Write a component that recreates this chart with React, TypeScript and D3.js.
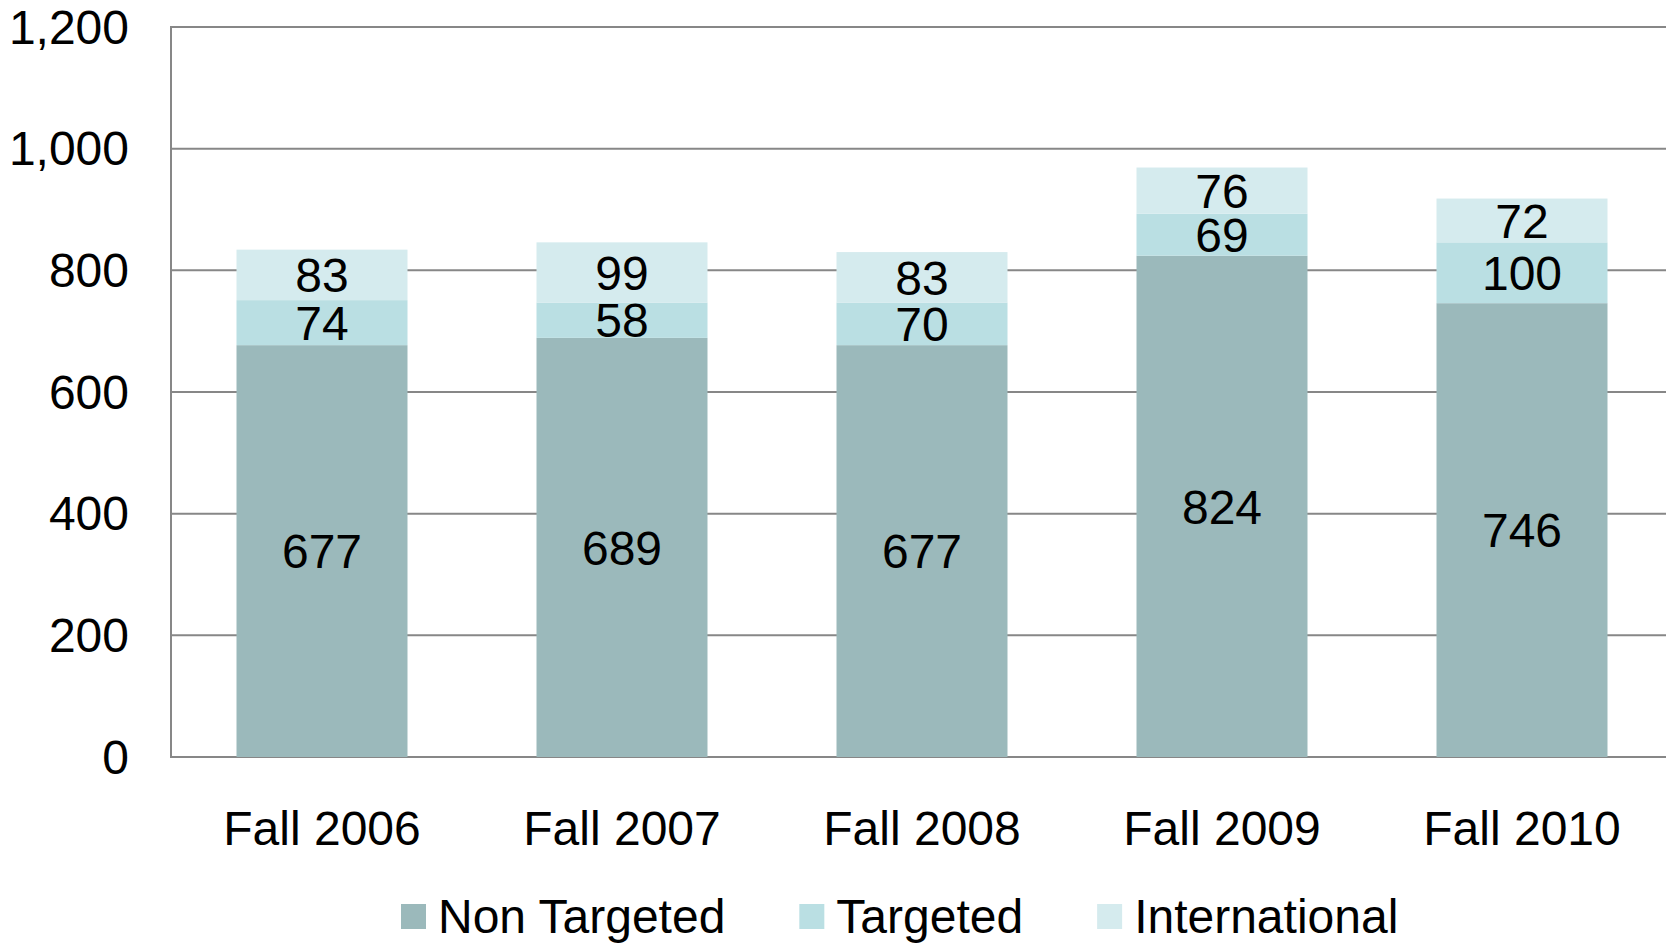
import React, { useEffect, useRef } from "react";
import * as d3 from "d3";

const categories = ["Fall 2006", "Fall 2007", "Fall 2008", "Fall 2009", "Fall 2010"];
const nonTargeted = [677, 689, 677, 824, 746];
const targeted = [74, 58, 70, 69, 100];
const international = [83, 99, 83, 76, 72];
const seriesNames = ["Non Targeted", "Targeted", "International"];
const seriesColors = ["#9BB9BB", "#BADFE3", "#D5EBEE"];
const yTicks = [0, 200, 400, 600, 800, 1000, 1200];

const WIDTH = 1666;
const HEIGHT = 945;
const FONT = "'Liberation Sans', Arial, sans-serif";

const App = () => {
    const ref = useRef<SVGSVGElement | null>(null);

    useEffect(() => {
        const svg = d3.select(ref.current);
        svg.selectAll("*").remove();

        const margin = { top: 27, left: 171, bottom: 188 };
        const plotBottom = HEIGHT - margin.bottom;

        const x = d3.scaleBand().domain(categories).range([margin.left + 1, margin.left + 1501])
            .paddingInner(0.43).paddingOuter(0.215);
        const y = d3.scaleLinear().domain([0, 1200]).range([plotBottom, margin.top]);

        const rows = categories.map((c, i) => ({
            category: c,
            "Non Targeted": nonTargeted[i],
            Targeted: targeted[i],
            International: international[i],
        }));
        const stacked = d3.stack<any>().keys(seriesNames)(rows);

        // gridlines
        svg.append("g")
            .selectAll("line")
            .data(yTicks)
            .join("line")
            .attr("x1", margin.left)
            .attr("x2", WIDTH)
            .attr("y1", d => y(d))
            .attr("y2", d => y(d))
            .attr("stroke", "#878787")
            .attr("stroke-width", 2);

        // left axis line
        svg.append("line")
            .attr("x1", margin.left).attr("x2", margin.left)
            .attr("y1", y(1200) - 1).attr("y2", y(0) + 1)
            .attr("stroke", "#878787").attr("stroke-width", 2);

        // y tick labels
        svg.append("g")
            .selectAll("text")
            .data(yTicks)
            .join("text")
            .attr("x", 129)
            .attr("y", d => y(d))
            .attr("dy", "0.35em")
            .attr("text-anchor", "end")
            .attr("font-family", FONT)
            .attr("font-size", 48)
            .attr("fill", "#000")
            .text(d => d3.format(",")(d));

        // bars
        stacked.forEach((layer, si) => {
            const g = svg.append("g");
            g.selectAll("rect")
                .data(layer)
                .join("rect")
                .attr("x", (d: any) => x(d.data.category)!)
                .attr("width", x.bandwidth())
                .attr("y", (d: any) => y(d[1]))
                .attr("height", (d: any) => y(d[0]) - y(d[1]))
                .attr("fill", seriesColors[si]);

            g.selectAll("text")
                .data(layer)
                .join("text")
                .attr("x", (d: any) => x(d.data.category)! + x.bandwidth() / 2)
                .attr("y", (d: any) => (y(d[0]) + y(d[1])) / 2)
                .attr("dy", "0.36em")
                .attr("text-anchor", "middle")
                .attr("font-family", FONT)
                .attr("font-size", 48)
                .attr("fill", "#000")
                .text((d: any) => d[1] - d[0]);
        });

        // x labels
        svg.append("g")
            .selectAll("text")
            .data(categories)
            .join("text")
            .attr("x", d => x(d)! + x.bandwidth() / 2)
            .attr("y", 845)
            .attr("text-anchor", "middle")
            .attr("font-family", FONT)
            .attr("font-size", 48)
            .attr("fill", "#000")
            .text(d => d);

        // legend
        const legend = svg.append("g");
        let lx = 401;
        seriesNames.forEach((name, i) => {
            legend.append("rect")
                .attr("x", lx).attr("y", 904)
                .attr("width", 25).attr("height", 25)
                .attr("fill", seriesColors[i]);
            const t = legend.append("text")
                .attr("x", lx + 37)
                .attr("y", 933)
                .attr("font-family", FONT)
                .attr("font-size", 48)
                .attr("fill", "#000")
                .text(name);
            const w = (t.node() as SVGTextElement).getComputedTextLength();
            lx = lx + 37 + w + 74;
        });
    }, []);

    return (
        <svg
            ref={ref}
            width={WIDTH}
            height={HEIGHT}
            style={{ position: "absolute", left: 0, top: 0, background: "#fff" }}
        />
    );
};

export default App;
